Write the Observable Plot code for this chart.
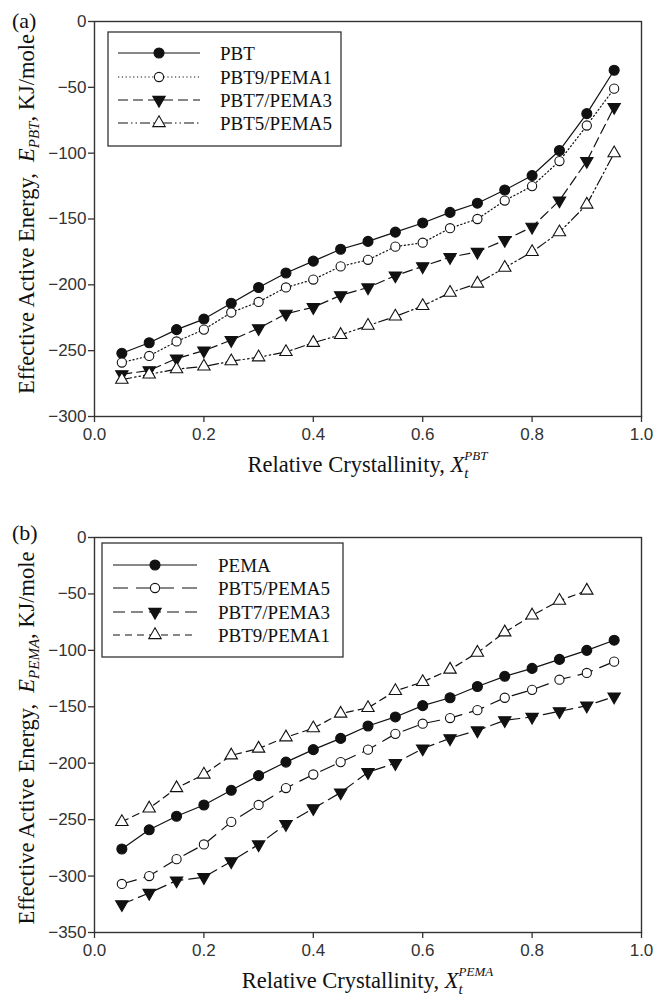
<!DOCTYPE html>
<html><head><meta charset="utf-8">
<script src="https://cdn.jsdelivr.net/npm/d3@7"></script>
<script src="https://cdn.jsdelivr.net/npm/@observablehq/plot@0.6"></script>
<style>
body{margin:0;background:#fff}
#chart svg{display:block}
</style>
</head><body><div id="chart"></div>
<script>
// ---------- Data ----------
const xA = [0.05,0.10,0.15,0.20,0.25,0.30,0.35,0.40,0.45,0.50,0.55,0.60,0.65,0.70,0.75,0.80,0.85,0.90,0.95];
const pbtA       = [-252,-244,-234,-226,-214,-202,-191,-182,-173,-167,-160,-153,-145,-138,-128,-117,-98,-70,-37];
const pbt9pema1A = [-259,-254,-243,-234,-221,-213,-202,-196,-186,-181,-171,-168,-157,-150,-136,-125,-106,-79,-51];
const pbt7pema3A = [-268,-265,-256,-250,-242,-233,-222,-217,-208,-202,-193,-186,-179,-175,-166,-156,-136,-106,-65];
const pbt5pema5A = [-272,-268,-264,-262,-258,-255,-251,-244,-238,-231,-224,-216,-206,-199,-187,-175,-160,-139,-100];

const xB = [0.05,0.10,0.15,0.20,0.25,0.30,0.35,0.40,0.45,0.50,0.55,0.60,0.65,0.70,0.75,0.80,0.85,0.90,0.95];
const pemaB      = [-276,-259,-247,-237,-224,-211,-199,-188,-178,-167,-159,-149,-142,-132,-123,-116,-108,-100,-91];
const pbt5pema5B = [-307,-300,-285,-272,-252,-237,-222,-210,-199,-188,-174,-165,-160,-153,-142,-135,-126,-120,-110];
const pbt7pema3B = [-325,-315,-304,-301,-287,-272,-254,-240,-226,-208,-200,-187,-178,-171,-162,-159,-154,-149,-141];
const xB9        = [0.05,0.10,0.15,0.20,0.25,0.30,0.35,0.40,0.45,0.50,0.55,0.60,0.65,0.70,0.75,0.80,0.85,0.90];
const pbt9pema1B = [-252,-240,-222,-210,-193,-187,-177,-169,-156,-151,-136,-128,-117,-102,-84,-69,-56,-47];

const xTicks = [0,0.2,0.4,0.6,0.8,1.0];
const yTicksA = [-300,-250,-200,-150,-100,-50,0];
const yTicksB = [-350,-300,-250,-200,-150,-100,-50,0];

// ---------- Styling ----------
const INK = "#111";
const AX = "#333";
const SERIF = "'Liberation Serif','Times New Roman',serif";
const SANS = "'Liberation Sans',Arial,sans-serif";

const triangleDown = {
  draw(context, size) {
    const y = -Math.sqrt(size / (Math.sqrt(3) * 3));
    context.moveTo(0, -y * 2);
    context.lineTo(-Math.sqrt(3) * y, y);
    context.lineTo(Math.sqrt(3) * y, y);
    context.closePath();
  }
};
const SYM = {
  fcircle: {symbol: "circle", fill: INK, r: 5},
  ocircle: {symbol: "circle", fill: "white", r: 4.6},
  ftri:    {symbol: triangleDown, fill: INK, r: 4.6},
  otri:    {symbol: "triangle", fill: "white", r: 4.6}
};

const seriesA = [
  {name: "PBT",        xs: xA, ys: pbtA,       dash: null,               sym: "fcircle"},
  {name: "PBT9/PEMA1", xs: xA, ys: pbt9pema1A, dash: "1.2,2.6",          sym: "ocircle"},
  {name: "PBT7/PEMA3", xs: xA, ys: pbt7pema3A, dash: "10,5",             sym: "ftri"},
  {name: "PBT5/PEMA5", xs: xA, ys: pbt5pema5A, dash: "10,3,1.5,3,1.5,3", sym: "otri"}
];
const seriesB = [
  {name: "PEMA",       xs: xB,  ys: pemaB,      dash: null,    sym: "fcircle"},
  {name: "PBT5/PEMA5", xs: xB,  ys: pbt5pema5B, dash: "15,8",  sym: "ocircle"},
  {name: "PBT7/PEMA3", xs: xB,  ys: pbt7pema3B, dash: "12,6",  sym: "ftri"},
  {name: "PBT9/PEMA1", xs: xB9, ys: pbt9pema1B, dash: "7,5",   sym: "otri"}
];

function makePanel({series, yDomain, yTicks, height, mt, mb, tag, tagY, sub, legend, xTitleY, yTitleX, yTitleCy}) {
  const ml = 94, mr = 17;
  const marks = [];
  for (const s of series) {
    const rows = s.xs.map((x, i) => ({x, y: s.ys[i]}));
    const sy = SYM[s.sym];
    marks.push(Plot.line(rows, {x: "x", y: "y", stroke: INK, strokeWidth: 1.2,
      strokeDasharray: s.dash || undefined}));
    marks.push(Plot.dot(rows, {x: "x", y: "y", symbol: sy.symbol, r: sy.r,
      fill: sy.fill, stroke: INK, strokeWidth: 1.1}));
  }
  marks.push(Plot.frame({stroke: AX, strokeWidth: 1.4}));
  marks.push(Plot.axisX({ticks: xTicks, tickFormat: d3.format(".1f"), tickSize: 6,
    tickPadding: 5, label: null, fontSize: 17, strokeWidth: 1.3}));
  marks.push(Plot.axisY({ticks: yTicks, tickFormat: d3.format("d"), tickSize: 6,
    tickPadding: 2, label: null, fontSize: 17, strokeWidth: 1.3}));

  const svg = Plot.plot({
    width: 658, height, marginTop: mt, marginBottom: mb, marginLeft: ml, marginRight: mr,
    x: {domain: [0, 1]},
    y: {domain: yDomain},
    style: {fontFamily: SANS, fontSize: "17px", color: AX, background: "white", overflow: "visible"},
    marks
  });

  const root = d3.select(svg);
  const plotCx = ml + (658 - ml - mr) / 2;

  // panel tag
  root.append("text").attr("x", 12).attr("y", tagY).attr("text-anchor", "start")
    .attr("font-family", SERIF).attr("font-size", 22).attr("fill", INK).text(tag);

  // x title
  const xt = root.append("text").attr("x", plotCx).attr("y", xTitleY)
    .attr("text-anchor", "middle").attr("font-family", SERIF).attr("font-size", 22.5).attr("fill", INK);
  xt.append("tspan").text("Relative Crystallinity, ");
  xt.append("tspan").attr("font-style", "italic").text("X");
  xt.append("tspan").attr("font-style", "italic").attr("font-size", 15).attr("dy", 6).text("t");
  xt.append("tspan").attr("font-style", "italic").attr("font-size", 13).attr("dx", -4).attr("dy", -18).text(sub);

  // y title
  const yt = root.append("text").attr("transform", `translate(${yTitleX},${yTitleCy}) rotate(-90)`)
    .attr("text-anchor", "middle").attr("font-family", SERIF).attr("font-size", 22.5).attr("fill", INK);
  yt.append("tspan").text("Effective Active Energy,  ");
  yt.append("tspan").attr("font-style", "italic").text("E");
  yt.append("tspan").attr("font-style", "italic").attr("font-size", 15).attr("dy", 5).text(sub);
  yt.append("tspan").attr("dy", -5).text(", KJ/mole");

  // legend
  const g = root.append("g").attr("text-anchor", "start");
  g.append("rect").attr("x", legend.x).attr("y", legend.y).attr("width", legend.w).attr("height", legend.h)
    .attr("fill", "white").attr("stroke", AX).attr("stroke-width", 1.3);
  series.forEach((s, i) => {
    const cy = legend.rows[i];
    g.append("line").attr("x1", legend.l1).attr("x2", legend.l2).attr("y1", cy).attr("y2", cy)
      .attr("stroke", INK).attr("stroke-width", 1.2).attr("stroke-dasharray", s.dash || null);
    const sy = SYM[s.sym];
    const type = sy.symbol === "circle" ? d3.symbolCircle : sy.symbol === "triangle" ? d3.symbolTriangle : triangleDown;
    g.append("path").attr("d", d3.symbol().type(type).size(Math.PI * sy.r * sy.r)())
      .attr("transform", `translate(${legend.mx},${cy})`).attr("fill", sy.fill)
      .attr("stroke", INK).attr("stroke-width", 1.1);
    g.append("text").attr("x", legend.tx).attr("y", cy + 6.5).attr("text-anchor", "start")
      .attr("font-family", SERIF).attr("font-size", 19).attr("fill", INK).text(s.name);
  });
  return svg;
}

const panelA = makePanel({
  series: seriesA, yDomain: [-300, 0], yTicks: yTicksA, height: 500, mt: 21, mb: 84,
  tag: "(a)", tagY: 28, sub: "PBT", xTitleY: 472, yTitleX: 34, yTitleCy: 214,
  legend: {x: 108, y: 32, w: 233, h: 114, rows: [53, 77, 100, 123], l1: 118, l2: 200, mx: 159, tx: 220}
});
const panelB = makePanel({
  series: seriesB, yDomain: [-350, 0], yTicks: yTicksB, height: 502, mt: 37, mb: 70,
  tag: "(b)", tagY: 40, sub: "PEMA", xTitleY: 488, yTitleX: 34, yTitleCy: 238,
  legend: {x: 102, y: 43, w: 241, h: 114, rows: [65, 88, 112, 135], l1: 113, l2: 197, mx: 155, tx: 218}
});
document.getElementById("chart").append(panelA, panelB);
</script>
</body></html>
